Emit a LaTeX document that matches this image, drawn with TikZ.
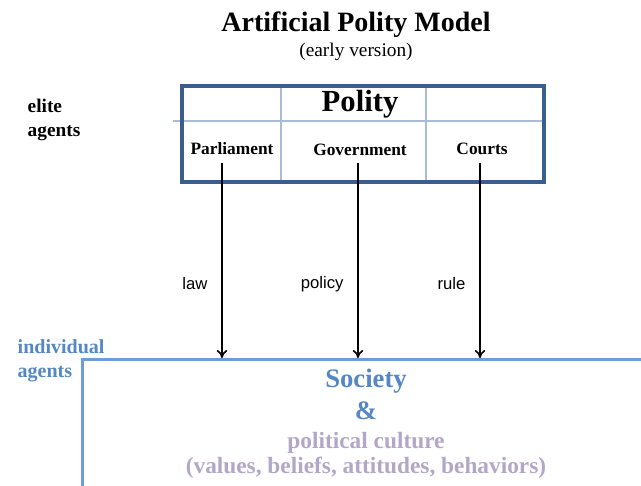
\documentclass[tikz,border=0pt]{standalone}
\usepackage{fontspec}
\setmainfont{Liberation Serif}
\newfontfamily\labelfont{Liberation Sans}
\usetikzlibrary{arrows.meta}

\definecolor{boxblue}{HTML}{3A5F8E}
\definecolor{gridblue}{HTML}{A9BCD3}
\definecolor{socblue}{HTML}{6F9CD2}
\definecolor{textblue}{HTML}{5487C3}
\definecolor{lavender}{HTML}{B3A7C8}

\tikzset{
  polity/.style={draw=boxblue, line width=3pt},
  cell/.style={draw=gridblue, line width=0.8pt},
  branch/.style={font=\fontsize{13}{15}\selectfont\bfseries},
  agents/.style={align=left, anchor=west, font=\fontsize{14.5}{18}\selectfont\bfseries},
  flow/.style={-{To[length=6pt,width=8pt]}, line width=1.2pt},
  flowlabel/.style={font=\labelfont\fontsize{12.5}{15}\selectfont, left=7pt}
}

\begin{document}
\begin{tikzpicture}[x=0.75pt, y=-0.75pt]

    \useasboundingbox (0,0) rectangle (641,485);
    \clip (0,0) rectangle (641,485);

    % heading
    \node (title) at (356,25) {\fontsize{21}{25}\selectfont\bfseries Artificial Polity Model};
    \node (sub) at (356,52) {\fontsize{14.5}{17}\selectfont (early version)};

    % polity table
    \draw [cell] (173,121) -- (544,121);
    \draw [cell] (281,86) -- (281,182);
    \draw [cell] (426,86) -- (426,182);
    \draw [polity] (182,86) rectangle (544,182);
    \node (polity) at (360,104) {\fontsize{23}{27}\selectfont\bfseries Polity};
    \node [branch] (parl) at (232,149) {Parliament};
    \node [branch] (gov) at (360,150) {Government};
    \node [branch] (courts) at (482,149) {Courts};
    \node [agents] (elite) at (23,120) {elite\\agents};

    % society box
    \node [draw=socblue, line width=2pt, anchor=north west, minimum width=600pt, minimum height=200pt] (soc) at (81,358) {};
    \node [agents, text=textblue, font=\fontsize{15}{18}\selectfont\bfseries] (indiv) at (13,361) {individual\\agents};
    \node [text=textblue] (society) at (366,381) {\fontsize{20}{24}\selectfont\bfseries Society};
    \node [text=textblue] (and) at (366,411) {\fontsize{20}{24}\selectfont\bfseries \&};
    \node [text=lavender] (culture) at (366,443) {\fontsize{17.5}{21}\selectfont\bfseries political culture};
    \node [text=lavender] (values) at (366,468) {\fontsize{17.5}{21}\selectfont\bfseries (values, beliefs, attitudes, behaviors)};

    % arrows
    \coordinate (p1) at (222,163);
    \coordinate (p2) at (358,163);
    \coordinate (p3) at (480,163);
    \draw [flow] (p1) to node [flowlabel, pos=0.62] {law} (p1 |- soc.north);
    \draw [flow] (p2) to node [flowlabel, pos=0.62] {policy} (p2 |- soc.north);
    \draw [flow] (p3) to node [flowlabel, pos=0.62] {rule} (p3 |- soc.north);

\end{tikzpicture}
\end{document}
